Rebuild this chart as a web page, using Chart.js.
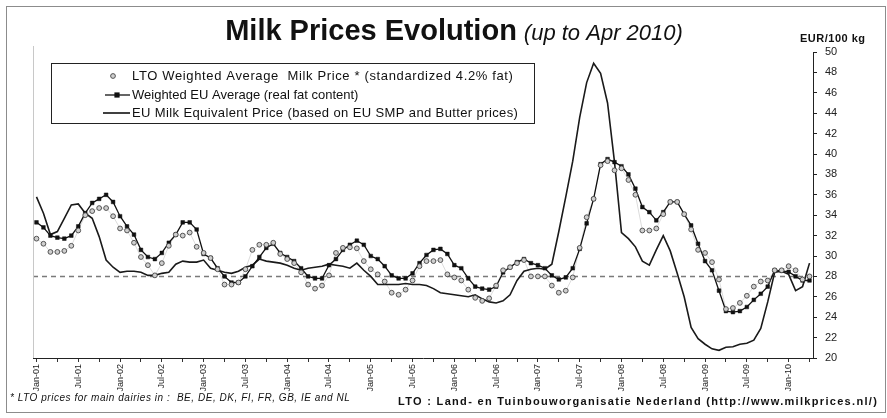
<!DOCTYPE html>
<html><head><meta charset="utf-8">
<script src="https://cdn.jsdelivr.net/npm/chart.js@4.4.1/dist/chart.umd.min.js"></script>
<style>
html,body{margin:0;padding:0;background:#fff;}
#wrap{position:relative;width:887px;height:418px;}
canvas{display:block;}
</style></head><body>
<div id="wrap"><canvas id="c" width="887" height="418"></canvas></div>
<script>
// ---------- DATA ----------
const MONTH_ABBR = ['Jan','Feb','Mar','Apr','May','Jun','Jul','Aug','Sep','Oct','Nov','Dec'];
const YEARS = ['01','02','03','04','05','06','07','08','09','10'];
const LAST_CATEGORY = 'Apr-10';
const categories = [];
outer: for (const y of YEARS) { for (const m of MONTH_ABBR) { categories.push(m + '-' + y); if (m + '-' + y === LAST_CATEGORY) break outer; } }

const tickLabels = ['Jan-01','Jul-01','Jan-02','Jul-02','Jan-03','Jul-03','Jan-04','Jul-04','Jan-05','Jul-05',
  'Jan-06','Jul-06','Jan-07','Jul-07','Jan-08','Jul-08','Jan-09','Jul-09','Jan-10'];

// LTO Weighted Average Milk Price (standardized 4.2% fat)
const ltoWeightedAvg = [
  31.7,31.2,30.4,30.4,30.5,31.0,32.5,34.0,34.4,34.7,
  34.7,33.9,32.7,32.5,31.3,29.9,29.1,28.1,29.3,31.0,
  32.1,32.0,32.3,30.9,30.3,29.8,28.7,27.2,27.2,27.4,
  28.7,30.6,31.1,31.1,31.3,30.2,29.7,29.3,28.4,27.2,
  26.8,27.1,28.1,30.3,30.8,30.85,30.75,29.5,28.7,28.2,
  27.5,26.4,26.2,26.7,27.6,29.0,29.5,29.5,29.6,28.2,
  27.9,27.6,26.7,25.9,25.6,25.85,27.1,28.6,28.9,29.3,
  29.6,28.0,28.0,28.0,27.1,26.4,26.6,27.9,30.8,33.8,
  35.6,38.9,39.3,38.4,38.6,37.45,36.0,32.5,32.5,32.7,
  34.1,35.3,35.3,34.1,32.6,30.6,30.3,29.4,27.7,24.8,
  24.9,25.4,26.1,27.0,27.5,27.6,28.6,28.6,29.0,28.6,
  27.7,28.0
];
// Weighted EU Average (real fat content)
const weightedEUAvg = [
  33.3,32.8,32.0,31.8,31.7,32.0,32.9,34.2,35.2,35.6,
  36.0,35.3,33.9,32.9,32.1,30.6,29.9,29.7,30.3,31.3,
  32.1,33.3,33.3,32.6,30.2,29.8,28.8,28.0,27.4,27.4,
  28.0,29.0,29.9,30.8,31.2,30.3,29.9,29.5,28.8,28.0,
  27.8,27.8,29.1,29.7,30.6,31.1,31.5,31.1,30.0,29.7,
  29.0,28.1,27.8,27.8,28.3,29.3,30.1,30.6,30.7,30.2,
  29.1,28.8,27.8,27.0,26.8,26.7,27.0,28.4,28.9,29.4,
  29.7,29.3,29.1,28.8,28.1,27.7,27.9,28.8,30.7,33.2,
  35.6,39.0,39.5,39.2,38.8,38.0,36.6,34.8,34.3,33.5,
  34.3,35.3,35.3,34.1,33.0,31.2,29.5,28.6,26.6,24.6,
  24.5,24.6,25.0,25.7,26.3,27.0,28.6,28.55,28.45,28.0,
  27.6,27.6
];
// EU Milk Equivalent Price (based on EU SMP and Butter prices)
const euMilkEquivalent = [
  35.8,34.2,32.1,32.4,33.7,35.0,35.1,34.2,33.7,31.9,
  29.6,28.9,28.4,28.5,28.5,28.4,28.1,28.1,28.3,28.4,
  29.2,29.5,29.4,29.4,29.6,28.8,28.6,28.4,28.3,28.5,
  28.9,29.1,29.7,29.5,29.4,29.3,29.1,28.8,28.6,28.8,
  28.9,29.0,29.2,29.1,29.0,28.8,29.3,28.6,28.0,27.2,
  27.2,27.2,27.2,27.3,27.2,27.2,27.1,26.8,26.4,26.3,
  26.2,26.1,26.0,26.2,25.8,25.5,25.4,25.6,26.2,27.6,
  28.5,28.7,28.8,28.7,29.2,32.4,35.8,39.3,43.6,47.0,
  48.9,47.9,45.0,39.2,32.3,31.7,30.9,29.5,29.1,30.6,
  32.0,30.5,28.3,26.0,23.0,21.9,21.35,20.9,20.75,21.05,
  21.1,21.35,21.45,21.75,22.9,25.5,28.4,28.5,28.2,26.6,
  27.0,29.3
];
const referenceLevel = 28.0;
const Y_MIN = 20, Y_MAX = 50, Y_STEP = 2;

const seriesNames = [
  'LTO Weighted Average  Milk Price * (standardized 4.2% fat)',
  'Weighted EU Average (real fat content)',
  'EU Milk Equivalent Price (based on EU SMP and Butter prices)'
];
const titleMain = 'Milk Prices Evolution';
const titleSub = '(up to Apr 2010)';
const unitLabel = 'EUR/100 kg';
const footnoteLeft = '* LTO prices for main dairies in :  BE, DE, DK, FI, FR, GB, IE and NL';
const footnoteRight = 'LTO : Land- en Tuinbouworganisatie Nederland (http://www.milkprices.nl/)';

// ---------- DRAWING ----------
const FONT = '"Liberation Sans", Arial, Helvetica, sans-serif';

function fitText(ctx, text, x, y, font, targetW) {
  ctx.save();
  ctx.font = font;
  const w = ctx.measureText(text).width;
  if ('letterSpacing' in ctx && targetW && w < targetW) {
    ctx.letterSpacing = ((targetW - w) / Math.max(1, text.length - 1)).toFixed(2) + 'px';
  }
  ctx.fillText(text, x, y);
  ctx.restore();
}

const decor = {
  id: 'decor',
  beforeDatasetsDraw(chart) {
    const ctx = chart.ctx, a = chart.chartArea, ys = chart.scales.y;
    const yy = Math.round(ys.getPixelForValue(referenceLevel)) + 0.5;
    ctx.save();
    ctx.strokeStyle = '#7a7a7a';
    ctx.lineWidth = 1.4;
    ctx.setLineDash([5, 4]);
    ctx.beginPath(); ctx.moveTo(a.left, yy); ctx.lineTo(a.right, yy); ctx.stroke();
    ctx.setLineDash([]);
    ctx.strokeStyle = '#c8c8c8'; ctx.lineWidth = 1;
    ctx.beginPath(); ctx.moveTo(a.left + 0.5, a.top - 6); ctx.lineTo(a.left + 0.5, a.bottom); ctx.stroke();
    ctx.restore();
  },
  afterDraw(chart) {
    const ctx = chart.ctx;
    ctx.save();
    ctx.strokeStyle = '#8c8c8c'; ctx.lineWidth = 1;
    ctx.strokeRect(6.5, 6.5, 879, 406);
    ctx.fillStyle = '#111';
    ctx.textBaseline = 'alphabetic';
    ctx.font = 'bold 29px ' + FONT;
    const w1 = ctx.measureText(titleMain).width;
    ctx.font = 'italic 22px ' + FONT;
    const w2 = ctx.measureText(titleSub).width;
    const gap = 7, cx = 454;
    const x0 = cx - (w1 + gap + w2) / 2;
    ctx.font = 'bold 29px ' + FONT; ctx.fillText(titleMain, x0, 40);
    ctx.font = 'italic 22px ' + FONT; ctx.fillText(titleSub, x0 + w1 + gap, 40);
    fitText(ctx, unitLabel, 800, 42, 'bold 11px ' + FONT, 65);
    // legend box
    ctx.strokeStyle = '#222'; ctx.lineWidth = 1;
    ctx.fillStyle = '#fff';
    ctx.fillRect(52, 63, 483, 60);
    ctx.strokeRect(51.5, 63.5, 483, 60);
    const rows = [76, 95, 113];
    ctx.beginPath(); ctx.arc(113, rows[0], 2.4, 0, Math.PI * 2);
    ctx.fillStyle = '#cfcfcf'; ctx.fill(); ctx.strokeStyle = '#444'; ctx.lineWidth = 0.9; ctx.stroke();
    ctx.strokeStyle = '#111'; ctx.lineWidth = 1.3;
    ctx.beginPath(); ctx.moveTo(105, rows[1]); ctx.lineTo(130, rows[1]); ctx.stroke();
    ctx.fillStyle = '#111'; ctx.fillRect(117 - 2.6, rows[1] - 2.6, 5.2, 5.2);
    ctx.lineWidth = 1.6;
    ctx.beginPath(); ctx.moveTo(103, rows[2]); ctx.lineTo(130, rows[2]); ctx.stroke();
    ctx.fillStyle = '#111';
    ctx.textBaseline = 'middle';
    fitText(ctx, seriesNames[0], 132, rows[0], '13px ' + FONT, 381);
    fitText(ctx, seriesNames[1], 132, rows[1], '13px ' + FONT, 170);
    fitText(ctx, seriesNames[2], 132, rows[2], '13px ' + FONT, 386);
    fitText(ctx, footnoteLeft, 10, 398, 'italic 10px ' + FONT, 340);
    fitText(ctx, footnoteRight, 398, 402, 'bold 11px ' + FONT, 479);
    ctx.restore();
  }
};

new Chart(document.getElementById('c').getContext('2d'), {
  type: 'line',
  data: {
    labels: categories,
    datasets: [
      { label: seriesNames[0], data: ltoWeightedAvg, showLine: true,
        borderColor: 'rgba(0,0,0,0.18)', borderWidth: 0.8,
        pointStyle: 'circle', pointRadius: 2.4, pointBackgroundColor: '#cfcfcf',
        pointBorderColor: '#444', pointBorderWidth: 0.9, order: 1 },
      { label: seriesNames[1], data: weightedEUAvg,
        borderColor: '#111', borderWidth: 1.3,
        pointStyle: 'rect', pointRadius: 2.6, pointBackgroundColor: '#111',
        pointBorderColor: '#111', pointBorderWidth: 0.5, order: 2 },
      { label: seriesNames[2], data: euMilkEquivalent,
        borderColor: '#1a1a1a', borderWidth: 1.6, pointRadius: 0, order: 3 }
    ]
  },
  options: {
    responsive: false, animation: false, devicePixelRatio: 1,
    layout: { padding: { left: 33, top: 52, right: 0, bottom: 0 } },
    plugins: { legend: { display: false }, title: { display: false }, tooltip: { enabled: false } },
    elements: { line: { tension: 0 } },
    scales: {
      x: {
        type: 'category', offset: true,
        grid: { display: true, drawOnChartArea: false, drawTicks: true, tickLength: 4,
          color: (c) => (c.index % 3 === 0 ? '#333' : 'rgba(0,0,0,0)') },
        border: { display: true, color: '#222', width: 1 },
        ticks: { autoSkip: false, maxRotation: 90, minRotation: 90, padding: 2, color: '#222',
          font: { family: FONT, size: 9 },
          callback: (v, i) => (tickLabels.includes(categories[i]) ? categories[i] : '') },
        afterFit: (s) => { s.height = 60; }
      },
      y: {
        position: 'right', min: Y_MIN, max: Y_MAX,
        ticks: { stepSize: Y_STEP, padding: 8, color: '#222', font: { family: FONT, size: 11 } },
        grid: { drawOnChartArea: false, drawTicks: true, tickLength: 4, color: '#222' },
        border: { display: true, color: '#222', width: 1 },
        afterFit: (s) => { s.width = 74; }
      }
    }
  },
  plugins: [decor]
});
</script>
</body></html>
